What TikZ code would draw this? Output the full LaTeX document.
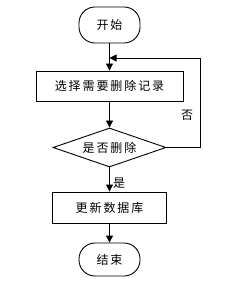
\documentclass[tikz,border=0pt]{standalone}
\usepackage{fontspec}
\newfontfamily\cjk[LetterSpace=16]{Noto Sans CJK SC}
\usetikzlibrary{shapes.geometric,arrows.meta}
\begin{document}
\begin{tikzpicture}[x=1pt,y=-1pt,
  every node/.style={font=\cjk\fontsize{12}{14}\selectfont},
  term/.style={draw,line width=0.9pt,rectangle,rounded corners=16pt,inner sep=0pt},
  proc/.style={draw,line width=0.9pt,rectangle,inner sep=0pt},
  decis/.style={draw,line width=0.9pt,diamond,aspect=2.9,inner sep=0pt},
  arr/.style={line width=0.9pt,-{Triangle[length=7pt,width=7pt]}},
  lbl/.style={inner sep=0pt}]
\useasboundingbox (0,0) rectangle (242,288);
\node[term,minimum width=61pt,minimum height=36pt] (start) at (109.5,25) {开始};
\node[proc,minimum width=147pt,minimum height=30pt] (sel) at (109.5,86) {选择需要删除记录};
\node[decis,minimum width=113pt,minimum height=39pt] (dec) at (109.5,147.5) {是否删除};
\node[proc,minimum width=114pt,minimum height=31pt] (upd) at (109.5,207.5) {更新数据库};
\node[term,minimum width=61pt,minimum height=33pt] (end) at (109.5,259.5) {结束};
\coordinate (m) at (109.5,58);
\draw[arr] (start) -- (sel);
\draw[arr] (sel) -- (dec);
\draw[arr] (dec) -- (upd);
\draw[arr] (upd) -- (end);
\draw[arr] (dec.east) -- ++(34,0) |- (m);
\node[lbl] (no) at (187,115) {否};
\node[lbl] (yes) at (119,183) {是};
\end{tikzpicture}
\end{document}
